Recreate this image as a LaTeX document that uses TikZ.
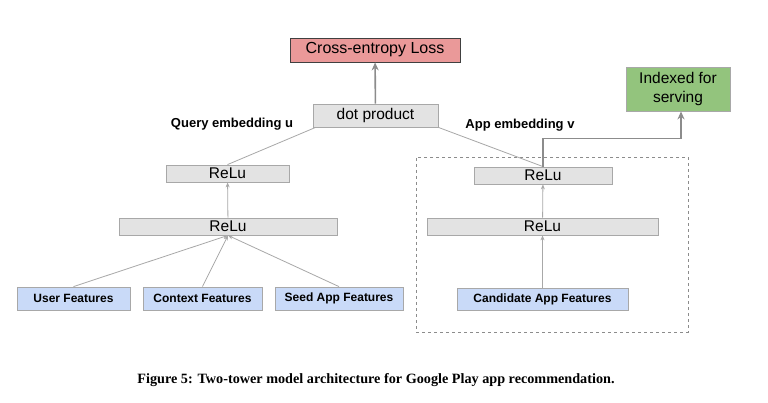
\documentclass[tikz,border=0pt]{standalone}
\usepackage{fontspec}
\setmainfont{Liberation Sans}
\newfontfamily\capfont{Liberation Serif}
\usetikzlibrary{arrows.meta}
\definecolor{lossred}{HTML}{EA9999}
\definecolor{idxgreen}{HTML}{93C47D}
\definecolor{featblue}{HTML}{C9DAF8}
\definecolor{relugray}{HTML}{E3E3E3}
\definecolor{linegray}{HTML}{A8A8A8}
\definecolor{darkline}{HTML}{8C8C8C}
\begin{document}
\begin{tikzpicture}[x=1pt,y=-1pt,
  box/.style={draw, rectangle, inner sep=0pt, align=center, line width=0.8pt},
  relubox/.style={box, fill=relugray, draw=linegray, font=\fontsize{15.5}{16}\selectfont},
  featbox/.style={box, fill=featblue, draw=linegray, font=\fontsize{12}{14}\selectfont\bfseries},
  lbl/.style={font=\fontsize{13}{15}\selectfont\bfseries, inner sep=0pt},
  conn/.style={draw=linegray, line width=0.8pt},
  arr/.style={conn, -{Stealth[length=5pt,width=4pt]}},
  bigarr/.style={draw=darkline, line width=1.6pt, -{Stealth[length=8pt,width=7pt]}}
]
\useasboundingbox (0,0) rectangle (768,403);
\fill[white] (0,0) rectangle (768,403);

\node[box, fill=lossred, draw=black!75, minimum width=170pt, minimum height=24pt, font=\fontsize{16}{17}\selectfont] (loss) at (375,50) {Cross-entropy Loss};
\node[relubox, minimum width=125pt, minimum height=23pt] (dot) at (375.5,115.5) {dot product};
\node[box, fill=idxgreen, draw=linegray, minimum width=104pt, minimum height=44pt, font=\fontsize{15.5}{19}\selectfont] (idx) at (678,89) {Indexed for\\serving};

\node[lbl] (qlbl) at (232,124) {Query embedding u};
\node[lbl] (albl) at (520,125) {App embedding v};

\node[relubox, minimum width=123pt, minimum height=17pt] (l1) at (227.5,173.5) {ReLu};
\node[relubox, minimum width=218pt, minimum height=17pt] (l2) at (228,226.5) {ReLu};
\node[featbox, minimum width=113pt, minimum height=23pt] (user) at (73.5,298.5) {User Features};
\node[featbox, minimum width=119pt, minimum height=23pt] (ctx) at (202.5,298.5) {Context Features};
\node[featbox, minimum width=128pt, minimum height=23pt] (seed) at (339,298.5) {Seed App Features};

\node[relubox, minimum width=138pt, minimum height=17pt] (r1) at (543,175.5) {ReLu};
\node[relubox, minimum width=231pt, minimum height=17pt] (r2) at (542.5,226.5) {ReLu};
\node[featbox, minimum width=171pt, minimum height=22pt] (cand) at (542.5,299) {Candidate App Features};

\node[draw=darkline, dashed, line width=0.8pt, rectangle, inner sep=0pt, minimum width=272pt, minimum height=175pt] (tower) at (552,244.5) {};

\coordinate (idxin) at ([xshift=3pt]idx.south);
\draw[bigarr] (dot) -- (loss);
\draw[conn] ([xshift=3pt]dot.south west) -- (l1.north);
\draw[conn] (dot.south east) -- (r1.north);
\draw[bigarr] (r1.north) -- ++(0,-28) -| (idxin);

\draw[arr] (l2) -- (l1);
\draw[arr] (user.north) -- (l2.south);
\draw[arr] (ctx.north) -- (l2.south);
\draw[arr] (seed.north) -- (l2.south);

\draw[arr] (r2) -- (r1);
\draw[arr] (cand) -- (r2);

\node[font=\capfont\fontsize{14.2}{16}\selectfont\bfseries] (cap) at (376,380) {Figure 5: Two-tower model architecture for Google Play app recommendation.};
\end{tikzpicture}
\end{document}
